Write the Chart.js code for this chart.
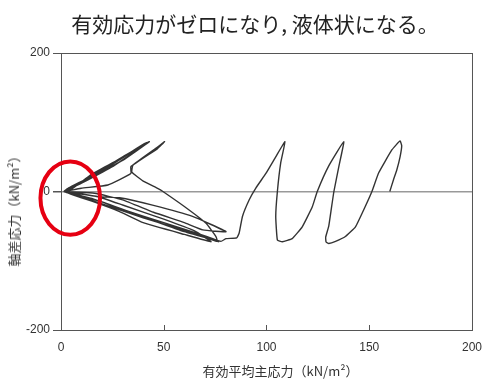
<!DOCTYPE html>
<html>
<head>
<meta charset="utf-8">
<script src="https://cdn.jsdelivr.net/npm/chart.js@4"></script>
<style>
body{margin:0;background:#fff;}
#wrap{position:relative;width:484px;height:382px;}
.lbl{position:absolute;font-family:"Noto Sans CJK JP",sans-serif;color:#222;white-space:nowrap;}
#title{left:0;top:11px;width:510px;text-align:center;font-size:21px;line-height:24px;}
#xtitle{left:0;top:362px;width:561px;text-align:center;font-size:13px;line-height:18px;color:#333;}
#ytitle{left:14px;top:208px;font-size:13px;line-height:18px;color:#333;transform:translate(-50%,-50%) rotate(-90deg);}
</style>
</head>
<body>
<div id="wrap">
  <canvas id="c" width="484" height="382"></canvas>
  <div class="lbl" id="title">有効応力がゼロになり, 液体状になる。</div>
  <div class="lbl" id="xtitle">有効平均主応力（kN/m²）</div>
  <div class="lbl" id="ytitle">軸差応力（kN/m²）</div>
</div>
<script>
// stress path, in drawing order (p' , q)
const meanStress = [
  160, 161.8, 163.4, 165, 165.8, 165,
  161, 154.6, 151.3, 148, 143.3, 138.4, 133.6, 130.3,
  129, 128.8, 130.3, 131.3, 132.8, 135.2, 137.6,
  130.3, 124.7, 122.3, 117.4, 112.5, 107.7, 105.3,
  104.5, 105.3, 106.9, 109,
  104.5, 99.7, 94.8, 91.6, 88.3, 86.7, 85.5, 80.3, 77.8,
  66, 50, 30, 15, 6, 2.5, 9.8, 22.8, 34, 34, 47, 50.4,
  47, 35, 34.5, 40, 47, 49.6, 62.5, 70.6, 75.4, 76,
  60, 40, 20, 8, 2, 3.4, 15, 30, 43,
  40, 28, 15, 5, 1.8, 16.3, 30, 45, 60, 69, 80.3,
  64, 45, 28.5, 18, 8, 1.8, 5, 20, 41.5,
  38, 20, 8, 3, 1.8, 18, 30, 50, 65, 73,
  60, 40, 28.5, 15, 5, 2, 10, 25, 43,
  30, 12, 3.4, 1.5, 20, 45, 60, 77
];
const devStress = [
  0, 17, 31, 50, 66, 73,
  60, 27, 0, -22, -51, -65, -72, -75,
  -73, -66, -50, -30, 0, 36, 72,
  37, 0, -22, -51, -68, -72.5, -70,
  -36, 0, 41, 72,
  50, 26, 5, -12, -36, -60, -67, -68, -72,
  -60, -45, -26, -10, -3, 0, 4.6, 9.4, 26, 36, 62, 72,
  64, 38, 28, 15, 4.6, 0, -27, -46, -65, -72,
  -56, -38, -18, -6, 0, 4.6, 22, 45, 72,
  68, 46, 25, 3, 0, -2.6, -12, -30, -45, -55.5, -58,
  -36, -20, -9, -7.5, -2, 0, 6, 30, 70,
  64, 32, 10, 2, 0, -7.5, -19.5, -40, -57, -72.5,
  -62, -45, -29, -14, -4, 0, 12, 36, 72,
  50, 17, 4.6, 0, -15, -42, -58, -72.5
];
const xTicks = [0, 50, 100, 150, 200];
const yTicks = [-200, 0, 200];
// red ring marking the origin zone: centre p', q and radii
const ringCentre = [4.5, -9.5];
const ringRadius = [14.5, 53];

const pathPoints = meanStress.map((p, i) => ({x: p, y: devStress[i]}));

const framePlugin = {
  id: 'frame',
  afterDatasetsDraw(chart) {
    const {ctx, chartArea: a, scales} = chart;
    ctx.save();
    ctx.strokeStyle = '#555';
    ctx.lineWidth = 1;
    ctx.strokeRect(a.left + 0.5, a.top + 0.5, a.right - a.left, a.bottom - a.top);
    // small inward ticks on the bottom edge
    xTicks.forEach(v => {
      const px = Math.round(scales.x.getPixelForValue(v)) + 0.5;
      ctx.beginPath();
      ctx.moveTo(px, a.bottom);
      ctx.lineTo(px, a.bottom - 5);
      ctx.stroke();
    });
    const cx = scales.x.getPixelForValue(ringCentre[0]);
    const cy = scales.y.getPixelForValue(ringCentre[1]);
    const rx = scales.x.getPixelForValue(ringCentre[0] + ringRadius[0]) - cx;
    const ry = cy - scales.y.getPixelForValue(ringCentre[1] + ringRadius[1]);
    ctx.beginPath();
    ctx.ellipse(cx, cy, rx, ry, 0, 0, Math.PI * 2);
    ctx.strokeStyle = '#e60012';
    ctx.lineWidth = 4;
    ctx.stroke();
    ctx.restore();
  }
};

new Chart(document.getElementById('c'), {
  type: 'scatter',
  data: {
    datasets: [{
      data: pathPoints,
      showLine: true,
      borderColor: '#333',
      borderWidth: 1.4,
      pointRadius: 0,
      tension: 0.12
    }]
  },
  options: {
    responsive: false,
    animation: false,
    layout: {padding: {top: 53, right: 11, left: 0, bottom: 0}},
    plugins: {legend: {display: false}, tooltip: {enabled: false}},
    scales: {
      x: {
        min: 0, max: 200,
        afterBuildTicks: s => { s.ticks = xTicks.map(v => ({value: v})); },
        afterFit: s => { s.height = 52; },
        border: {display: false},
        grid: {display: false},
        ticks: {color: '#333', padding: 2, font: {family: 'Liberation Sans', size: 12}}
      },
      y: {
        min: -200, max: 200,
        afterBuildTicks: s => { s.ticks = yTicks.map(v => ({value: v})); },
        afterFit: s => { s.width = 61; },
        border: {display: false},
        grid: {
          drawTicks: true,
          tickLength: 8,
          tickColor: '#555',
          color: c => c.tick && c.tick.value === 0 ? '#999' : 'rgba(0,0,0,0)',
          lineWidth: c => c.tick && c.tick.value === 0 ? 1.5 : 1
        },
        ticks: {color: '#333', padding: 3, font: {family: 'Liberation Sans', size: 12}}
      }
    }
  },
  plugins: [framePlugin]
});
</script>
</body>
</html>
